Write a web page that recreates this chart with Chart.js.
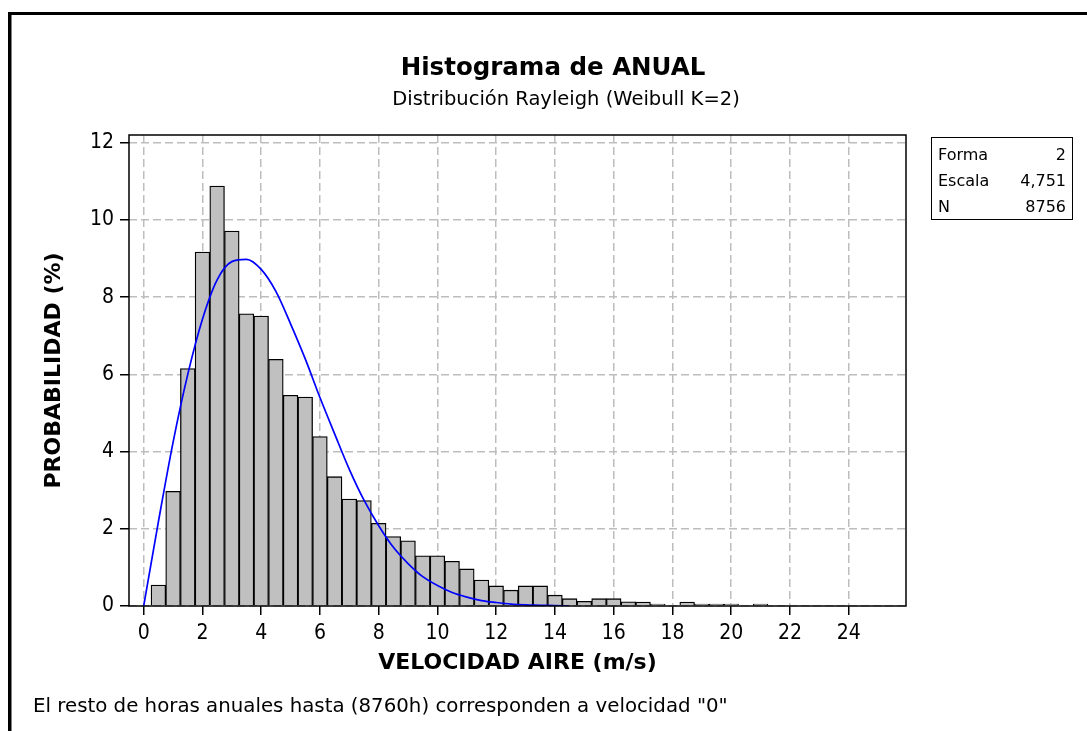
<!DOCTYPE html>
<html><head><meta charset="utf-8">
<script src="https://cdn.jsdelivr.net/npm/chart.js@4"></script>
<style>html,body{margin:0;padding:0;background:#fff;}canvas{display:block;}</style>
</head><body>
<canvas id="c" width="1087" height="731"></canvas>
<script>
// ---- data ----
const binCenters = [0.5,1.0,1.5,2.0,2.5,3.0,3.5,4.0,4.5,5.0,5.5,6.0,6.5,7.0,7.5,8.0,8.5,9.0,9.5,10.0,10.5,11.0,11.5,12.0,12.5,13.0,13.5,14.0,14.5,15.0,15.5,16.0,16.5,17.0,17.5,18.0,18.5,19.0,19.5,20.0,20.5,21.0];
const binPercent = [0.54,2.97,6.15,9.17,10.88,9.71,7.57,7.51,6.39,5.46,5.41,4.39,3.35,2.77,2.73,2.14,1.80,1.69,1.30,1.30,1.16,0.96,0.67,0.52,0.41,0.52,0.52,0.28,0.19,0.12,0.19,0.19,0.11,0.10,0.05,0,0.10,0.05,0.05,0.05,0,0.05];
const curveX = [0,0.5,1,1.5,2,2.5,3,3.5,4,4.5,5,5.5,6,6.5,7,7.5,8,8.5,9,9.5,10,10.5,11,11.5,12,12.5,13,13.5,14,14.5];
const curveY = [0,2.18,4.24,6.0,7.43,8.45,8.92,8.98,8.72,8.15,7.31,6.4,5.4,4.46,3.54,2.74,2.08,1.52,1.1,0.76,0.53,0.35,0.23,0.14,0.09,0.05,0.03,0.02,0.01,0.0];
const xTickValues = [0,2,4,6,8,10,12,14,16,18,20,22,24];
const yTickValues = [0,2,4,6,8,10,12];
const titleText = 'Histograma de ANUAL';
const subtitleText = 'Distribución Rayleigh (Weibull K=2)';
const xTitle = 'VELOCIDAD AIRE (m/s)';
const yTitle = 'PROBABILIDAD (%)';
const footerText = 'El resto de horas anuales hasta (8760h) corresponden a velocidad "0"';
const statLabels = ['Forma','Escala','N'];
const statValues = ['2','4,751','8756'];

const FONT = '"DejaVu Sans", sans-serif';
const TICKFONT = '"DejaVu Sans Condensed", "DejaVu Sans", sans-serif';
Chart.defaults.font.family = FONT;
Chart.defaults.color = '#000';

const decor = {
  id: 'decor',
  beforeDraw(chart) {
    const ctx = chart.ctx;
    ctx.save(); ctx.fillStyle = '#fff'; ctx.fillRect(0, 0, chart.width, chart.height); ctx.restore();
  },
  afterDraw(chart) {
    const ctx = chart.ctx, a = chart.chartArea;
    ctx.save();
    ctx.strokeStyle = '#000'; ctx.lineWidth = 1.5;
    ctx.strokeRect(a.left, a.top, a.right - a.left, a.bottom - a.top);
    // outer frame (top + left)
    ctx.fillStyle = '#000';
    ctx.fillRect(8, 12, chart.width - 8, 3);
    ctx.fillRect(8, 12, 3.5, chart.height - 12);
    // titles
    ctx.textAlign = 'center'; ctx.textBaseline = 'alphabetic';
    ctx.font = 'bold 24.5px ' + FONT; ctx.fillText(titleText, 553, 75);
    ctx.font = '19.5px ' + FONT; ctx.fillText(subtitleText, 566, 105);
    ctx.font = '19.8px ' + FONT;
    ctx.textAlign = 'left'; ctx.fillText(footerText, 33, 712);
    // stats box
    ctx.lineWidth = 1; ctx.strokeRect(931.5, 137.5, 141, 82);
    ctx.font = '16px ' + FONT;
    const rows = [160, 186, 212];
    statLabels.forEach((l, i) => {
      ctx.textAlign = 'left'; ctx.fillText(l, 938, rows[i]);
      ctx.textAlign = 'right'; ctx.fillText(statValues[i], 1066, rows[i]);
    });
    ctx.restore();
  }
};

new Chart(document.getElementById('c'), {
  type: 'bar',
  data: {
    datasets: [
      { type: 'line', data: curveX.map((x, i) => ({x, y: curveY[i]})), borderColor: '#0000ff', borderWidth: 1.7,
        pointRadius: 0, cubicInterpolationMode: 'monotone', fill: false, order: 0 },
      { type: 'bar', data: binCenters.map((x, i) => ({x, y: binPercent[i]})), backgroundColor: '#c0c0c0',
        borderColor: '#000', borderWidth: 1.3, barPercentage: 1, categoryPercentage: 1, order: 1 }
    ]
  },
  options: {
    responsive: false, animation: false, devicePixelRatio: 1,
    layout: { padding: { left: 0, top: 135, right: 181, bottom: 55 } },
    plugins: { legend: { display: false }, tooltip: { enabled: false } },
    scales: {
      x: {
        type: 'linear', min: -0.5, max: 25.95, offset: false,
        afterBuildTicks: s => { s.ticks = xTickValues.map(v => ({value: v})); },
        afterFit: s => { s.height = 70; },
        ticks: { font: { size: 21, family: TICKFONT }, padding: 6, maxRotation: 0, autoSkip: false, color: '#000' },
        grid: { offset: false, color: '#bdbdbd', lineWidth: 1.5, tickLength: 9, tickColor: '#000', tickWidth: 1.5 },
        border: { display: false, dash: [8, 4] },
        title: { display: true, text: xTitle, font: { size: 22, weight: 'bold' }, padding: 0, color: '#000' }
      },
      y: {
        type: 'linear', min: 0, max: 12.2,
        afterBuildTicks: s => { s.ticks = yTickValues.map(v => ({value: v})); },
        afterFit: s => { s.width = 129; },
        ticks: { font: { size: 21, family: TICKFONT }, padding: 6, color: '#000' },
        grid: { color: '#bdbdbd', lineWidth: 1.5, tickLength: 9, tickColor: '#000', tickWidth: 1.5 },
        border: { display: false, dash: [8, 4] },
        title: { display: true, text: yTitle, font: { size: 22, weight: 'bold' }, padding: { top: 41, bottom: 0 }, color: '#000' }
      }
    }
  },
  plugins: [decor]
});
</script>
</body></html>
